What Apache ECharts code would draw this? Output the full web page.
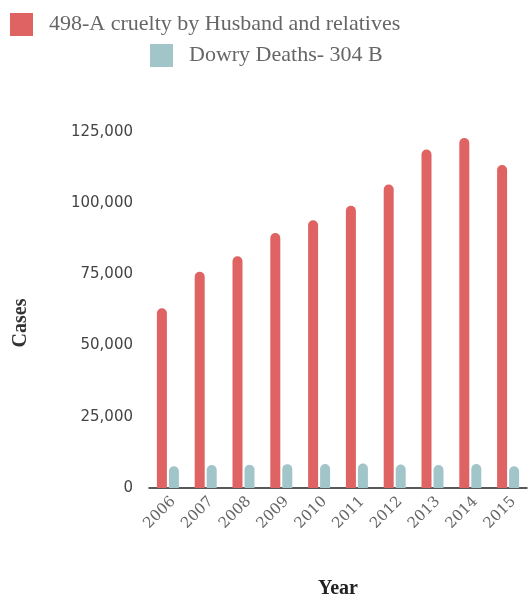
<!DOCTYPE html>
<html lang="en">
<head>
    <meta charset="UTF-8">
    <title>Crimes against women</title>
    <script src="https://cdn.jsdelivr.net/npm/echarts@6/dist/echarts.min.js"></script>
    <style>
        html, body { margin: 0; padding: 0; background: #fff; }
    </style>
</head>
<body>
<div id="main" style="width: 532px; height: 601px;"></div>
<script>
    var years = ['2006', '2007', '2008', '2009', '2010', '2011', '2012', '2013', '2014', '2015'];
    var cruelty = [63128, 75930, 81344, 89546, 94041, 99135, 106527, 118866, 122877, 113403];
    var dowry = [7618, 8093, 8172, 8383, 8391, 8618, 8233, 8083, 8455, 7634];
    var seriesNames = ['498-A cruelty by Husband and relatives', 'Dowry Deaths- 304 B'];

    var serif = '"Liberation Serif", "DejaVu Serif", serif';
    var chart = echarts.init(document.getElementById('main'));

    var legendText = { fontFamily: serif, fontSize: 22, color: '#666', padding: [0, 0, 0, 11] };

    chart.setOption({
        animation: false,
        legend: [{
            data: [seriesNames[0]],
            left: 5,
            top: 8,
            itemWidth: 23,
            itemHeight: 23,
            icon: 'rect',
            itemStyle: { borderRadius: 2 },
            textStyle: legendText
        }, {
            data: [seriesNames[1]],
            left: 145,
            top: 39,
            itemWidth: 23,
            itemHeight: 23,
            icon: 'rect',
            itemStyle: { borderRadius: 2 },
            textStyle: legendText
        }],
        grid: {
            left: 149,
            right: 5,
            top: 132,
            bottom: 113,
            outerBoundsMode: 'none'
        },
        xAxis: {
            type: 'category',
            data: years,
            name: 'Year',
            nameLocation: 'middle',
            nameGap: 91,
            nameTextStyle: { fontFamily: serif, fontSize: 20, fontWeight: 'bold', color: '#222' },
            axisLine: { lineStyle: { color: '#222', width: 1.5 } },
            axisTick: { show: false },
            axisLabel: {
                rotate: 45,
                verticalAlign: 'top',
                fontFamily: '"DejaVu Serif", serif',
                fontSize: 15,
                color: '#666',
                margin: 6
            }
        },
        yAxis: {
            type: 'value',
            min: 0,
            max: 125000,
            interval: 25000,
            name: 'Cases',
            nameLocation: 'middle',
            nameGap: 118,
            nameTextStyle: { fontFamily: serif, fontSize: 20, fontWeight: 'bold', color: '#333', padding: [0, 26, 0, 0] },
            axisLine: { show: false },
            axisTick: { show: false },
            splitLine: { show: false },
            axisLabel: {
                fontFamily: '"DejaVu Sans", sans-serif',
                fontSize: 15,
                color: '#444',
                margin: 16,
                formatter: function (v) { return v.toLocaleString('en-US'); }
            }
        },
        series: [{
            name: seriesNames[0],
            type: 'bar',
            data: cruelty,
            barWidth: 10,
            barGap: '20%',
            itemStyle: { color: '#e06363', borderRadius: [5, 5, 0, 0] }
        }, {
            name: seriesNames[1],
            type: 'bar',
            data: dowry,
            barWidth: 10,
            itemStyle: { color: '#a2c5ca', borderRadius: [5, 5, 0, 0] }
        }]
    });
</script>
</body>
</html>
